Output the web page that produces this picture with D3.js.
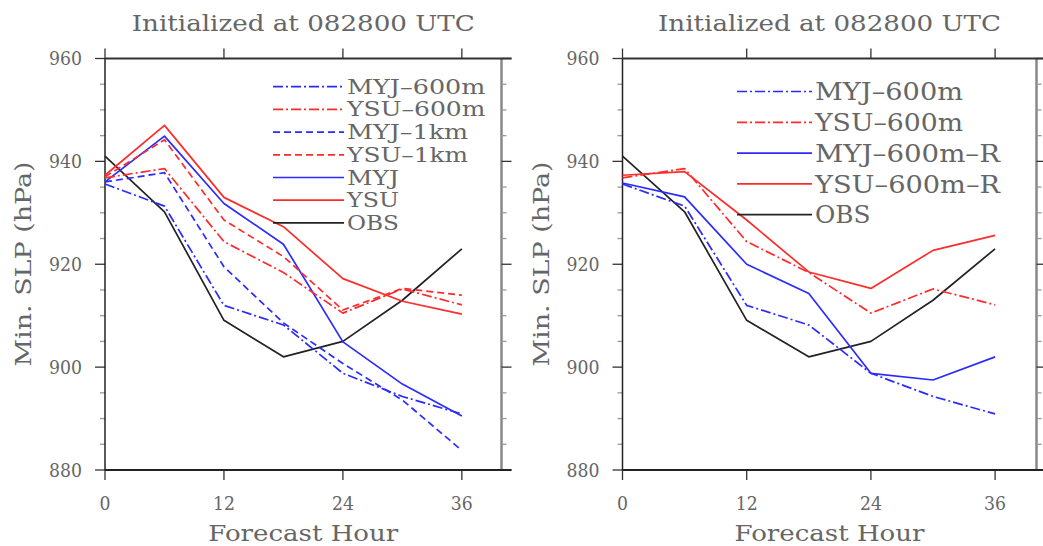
<!DOCTYPE html>
<html>
<head>
<meta charset="utf-8">
<script src="https://cdn.jsdelivr.net/npm/d3@7"></script>
<style>
  body { margin: 0; background: #fff; }
  text { font-family: 'DejaVu Serif', 'Liberation Serif', serif; fill: #666; }
</style>
</head>
<body>
<div id="chart"></div>
<script>
// forecast hours and observed / simulated minimum SLP (hPa)
const hours = [0, 6, 12, 18, 24, 30, 36]
const obs = [941, 930.2, 909.1, 902, 905, 913, 923]
const myj600 = [935.6, 931.3, 912, 908.2, 898.8, 894.3, 890.9]
const ysu600 = [936.8, 938.6, 924.4, 918.4, 910.5, 915.2, 912.1]
const myj1km = [936, 937.8, 919.5, 908.6, 900.7, 893.6, 883.8]
const ysu1km = [937, 944.2, 928.6, 921.5, 911.1, 915.3, 914]
const myj = [936, 944.9, 931.8, 923.9, 904.9, 896.7, 890.5]
const ysu = [937.3, 947, 933, 927.3, 917.2, 912.8, 910.3]
const myj600R = [935.8, 933.1, 920, 914.3, 898.8, 897.5, 902]
const ysu600R = [937.3, 938, 928.6, 918.5, 915.3, 922.7, 925.6]

const xTicks = [0, 12, 24, 36]
const yTicks = [880, 900, 920, 940, 960]
const titleText = 'Initialized at 082800 UTC'

const BLUE = '#2b2bff'
const RED = '#ff2b2b'
const DASHDOT = '10,3,2,3'
const DASHED = '7,4'

const panels = [
  {
    x0: 105, x1: 501.5,
    legend: { lineX0: 273, lineX1: 344, textX: 347, y0: 86.7, dy: 22.7, font: 19.5, charW: 17.3 },
    series: [
      { name: 'MYJ-600m', values: myj600, color: BLUE, dash: DASHDOT },
      { name: 'YSU-600m', values: ysu600, color: RED, dash: DASHDOT },
      { name: 'MYJ-1km', values: myj1km, color: BLUE, dash: DASHED },
      { name: 'YSU-1km', values: ysu1km, color: RED, dash: DASHED },
      { name: 'MYJ', values: myj, color: BLUE, dash: null },
      { name: 'YSU', values: ysu, color: RED, dash: null },
      { name: 'OBS', values: obs, color: '#222', dash: null }
    ]
  },
  {
    x0: 622.5, x1: 1036.5,
    legend: { lineX0: 737, lineX1: 812, textX: 815, y0: 91.5, dy: 30.8, font: 24, charW: 18.5 },
    series: [
      { name: 'MYJ-600m', values: myj600, color: BLUE, dash: DASHDOT },
      { name: 'YSU-600m', values: ysu600, color: RED, dash: DASHDOT },
      { name: 'MYJ-600m-R', values: myj600R, color: BLUE, dash: null },
      { name: 'YSU-600m-R', values: ysu600R, color: RED, dash: null },
      { name: 'OBS', values: obs, color: '#222', dash: null }
    ]
  }
]

const width = 1043
const height = 546
const yTop = 58.5
const yBottom = 470

const svg = d3
  .select('#chart')
  .append('svg')
  .attr('width', width)
  .attr('height', height)

// text with a fixed drawn width (the original font is a wide NCL font)
function label(g, str, x, y, size, len, anchor) {
  return g
    .append('text')
    .attr('x', x)
    .attr('y', y)
    .attr('font-size', size)
    .attr('text-anchor', anchor || 'start')
    .attr('textLength', len)
    .attr('lengthAdjust', 'spacingAndGlyphs')
    .text(str)
}

panels.forEach(p => {
  const g = svg.append('g')
  const x = d3.scaleLinear().domain([0, 40]).range([p.x0, p.x1])
  const y = d3.scaleLinear().domain([880, 960]).range([yBottom, yTop])

  // frame: right border is drawn gray, the rest dark
  g.append('line')
    .attr('x1', p.x1).attr('x2', p.x1)
    .attr('y1', yTop).attr('y2', yBottom)
    .attr('stroke', '#888').attr('stroke-width', 2.5)

  // minor y ticks every 5 hPa, both sides, outward
  d3.range(880, 961, 5).forEach(v => {
    const major = v % 20 === 0
    const len = major ? 10 : 5
    g.append('line')
      .attr('x1', p.x0 - len).attr('x2', p.x0)
      .attr('y1', y(v)).attr('y2', y(v))
      .attr('stroke', major ? '#333' : '#999').attr('stroke-width', 1.3)
    g.append('line')
      .attr('x1', p.x1).attr('x2', p.x1 + len)
      .attr('y1', y(v)).attr('y2', y(v))
      .attr('stroke', major ? '#333' : '#999').attr('stroke-width', 1.3)
  })

  // x ticks top and bottom, outward
  xTicks.forEach(t => {
    g.append('line')
      .attr('x1', x(t)).attr('x2', x(t))
      .attr('y1', yBottom).attr('y2', yBottom + 10)
      .attr('stroke', '#333').attr('stroke-width', 1.3)
    g.append('line')
      .attr('x1', x(t)).attr('x2', x(t))
      .attr('y1', yTop - 10).attr('y2', yTop)
      .attr('stroke', '#333').attr('stroke-width', 1.3)
  })

  g.append('line')
    .attr('x1', p.x0).attr('x2', p.x0)
    .attr('y1', yTop).attr('y2', yBottom)
    .attr('stroke', '#222').attr('stroke-width', 1.5)
  g.append('line')
    .attr('x1', p.x0).attr('x2', p.x1 + 10)
    .attr('y1', yTop).attr('y2', yTop)
    .attr('stroke', '#333').attr('stroke-width', 1.8)
  g.append('line')
    .attr('x1', p.x0).attr('x2', p.x1 + 10)
    .attr('y1', yBottom).attr('y2', yBottom)
    .attr('stroke', '#222').attr('stroke-width', 1.8)

  // tick labels
  yTicks.forEach(v => {
    label(g, String(v), p.x0 - 23, y(v) + 6.5, 18, 33, 'end')
  })
  xTicks.forEach(t => {
    const s = String(t)
    label(g, s, x(t), 509.5, 18, s.length * 11, 'middle')
  })

  // axis titles and panel title
  const cx = (p.x0 + p.x1) / 2
  label(g, 'Forecast Hour', cx, 540.5, 22, 190, 'middle')
  label(g, 'Min. SLP (hPa)', 0, 0, 22, 205, 'middle')
    .attr('x', null).attr('y', null)
    .attr('transform', `translate(${p.x0 - 74},264) rotate(-90)`)
  label(g, titleText, cx, 30.5, 22.5, 343, 'middle')

  // series lines
  const line = d3
    .line()
    .x((d, i) => x(hours[i]))
    .y(d => y(d))

  p.series.slice().reverse().forEach(s => {
    g.append('path')
      .datum(s.values)
      .attr('d', line)
      .attr('fill', 'none')
      .attr('stroke', s.color)
      .attr('stroke-width', 1.7)
      .attr('stroke-dasharray', s.dash)
      .attr('stroke-linejoin', 'round')
  })

  // legend
  const L = p.legend
  p.series.forEach((s, i) => {
    const ly = L.y0 + i * L.dy
    g.append('line')
      .attr('x1', L.lineX0).attr('x2', L.lineX1)
      .attr('y1', ly).attr('y2', ly)
      .attr('stroke', s.color)
      .attr('stroke-width', 1.7)
      .attr('stroke-dasharray', s.dash)
    label(g, s.name.replace(/-/g, '\u2013'), L.textX, ly + L.font * 0.36, L.font, s.name.length * L.charW)
  })
})
</script>
</body>
</html>
